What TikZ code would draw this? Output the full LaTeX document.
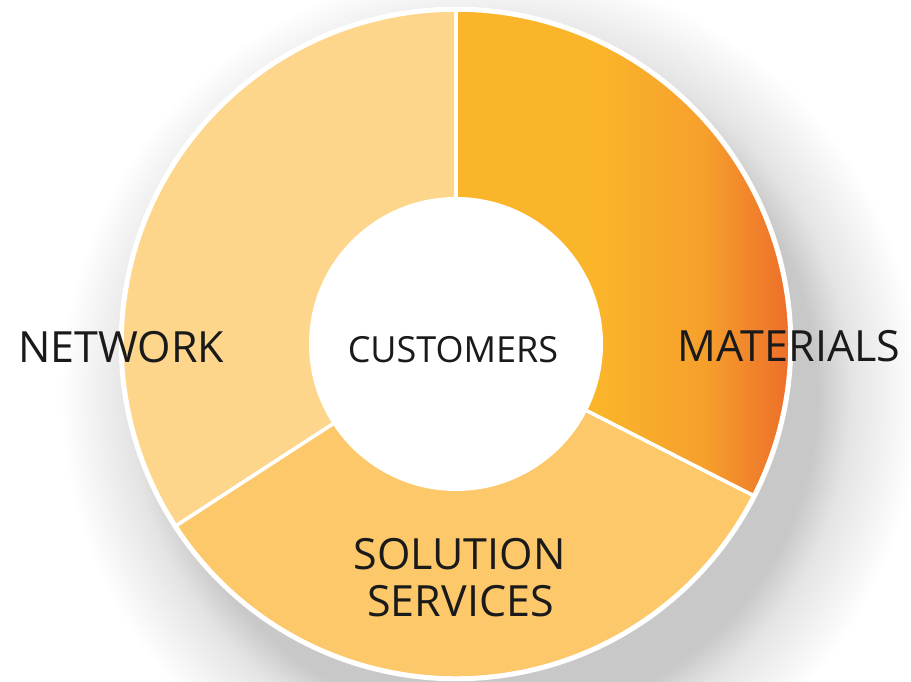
\documentclass[tikz,border=0pt]{standalone}
\usepackage{fontspec}
\setmainfont{Open Sans}
\definecolor{netc}{RGB}{253,214,140}
\definecolor{solc}{RGB}{252,200,106}
\definecolor{matA}{RGB}{250,181,42}
\definecolor{matM}{RGB}{246,160,44}
\definecolor{matB}{RGB}{237,110,42}
\definecolor{shc}{RGB}{200,200,200}
\definecolor{shd}{RGB}{228,228,228}
\definecolor{txt}{RGB}{26,26,26}
\pgfdeclarehorizontalshading{matshade}{100bp}{color(0bp)=(matA); color(25bp)=(matA); color(46bp)=(matA); color(62bp)=(matM); color(75bp)=(matB); color(100bp)=(matB)}
\pgfdeclareradialshading{shadowshade}{\pgfpoint{0bp}{0bp}}{color(0bp)=(shc); color(19bp)=(shc); color(21bp)=(shd); color(25bp)=(white); color(50bp)=(white)}
\tikzset{
  seg/.style={draw=white, line width=3.5pt, line join=round},
  lbl/.style={text=txt, font=\fontsize{43}{49}\selectfont, inner sep=0pt, anchor=base},
}
\begin{document}
\begin{tikzpicture}[x=1pt,y=1pt]
\useasboundingbox (0,0) rectangle (911,682);
\fill[white] (0,0) rectangle (911,682);
\coordinate (c) at (456,338);
\coordinate (sh) at (490,287);
\shade[shading=shadowshade] (sh) circle[radius=430];
% segments
\path[seg, fill=netc] (c) -- ++(90:334) arc[start angle=90, end angle=213, radius=334] -- cycle;
\path[seg, fill=solc] (c) -- ++(213:334) arc[start angle=213, end angle=333, radius=334] -- cycle;
\shade[shading=matshade] (c) -- ++(90:334) arc[start angle=90, end angle=-27, radius=334] -- cycle;
\draw[seg] (c) -- ++(90:334) arc[start angle=90, end angle=-27, radius=334] -- cycle;
\draw[white, line width=3.5pt] (c) circle[radius=335.5];
% centre
\node[circle, fill=white, minimum size=294pt, inner sep=0pt] (hub) at (c) {};
\node[lbl, font=\fontsize{36}{42}\selectfont] (cust) at (453,319) {CUSTOMERS};
\node[lbl] (net) at (121,319) {NETWORK};
\node[lbl] (mat) at (789,320) {MATERIALS};
\node[lbl] (sol) at (459.5,112) {SOLUTION};
\node[lbl] (ser) at (460.5,65) {SERVICES};
\end{tikzpicture}
\end{document}
